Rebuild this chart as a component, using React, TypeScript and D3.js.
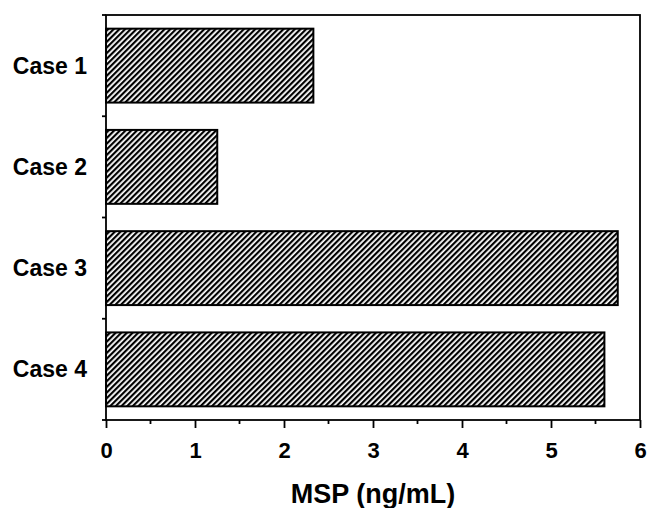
import React, { useEffect, useRef } from 'react';
import * as d3 from 'd3';

const categories = ['Case 1', 'Case 2', 'Case 3', 'Case 4'];
const values = [2.33, 1.25, 5.75, 5.6];
const xTicks = [0, 1, 2, 3, 4, 5, 6];
const xMinorTicks = [0.5, 1.5, 2.5, 3.5, 4.5, 5.5];
const xLabel = 'MSP (ng/mL)';

const App = () => {
  const chartRef = useRef<SVGSVGElement>(null);

  useEffect(() => {
    const svg = d3.select(chartRef.current);
    svg.selectAll('*').remove();

    const margin = { top: 15, right: 10, bottom: 88, left: 106 };
    const width = 650 - margin.left - margin.right;
    const height = 508 - margin.top - margin.bottom;
    const font = '"Liberation Sans", Arial, Helvetica, sans-serif';

    // hatch fill
    const defs = svg.append('defs');
    const pat = defs.append('pattern')
      .attr('id', 'hatch')
      .attr('patternUnits', 'userSpaceOnUse')
      .attr('width', 4)
      .attr('height', 4)
      .attr('patternTransform', 'rotate(45)');
    pat.append('rect').attr('width', 4).attr('height', 4).attr('fill', '#fff');
    pat.append('rect')
      .attr('x', 0).attr('y', 0).attr('width', 2.2).attr('height', 4)
      .attr('fill', '#000');

    const x = d3.scaleLinear()
      .domain([0, 6])
      .range([margin.left, margin.left + width]);

    const y = d3.scaleBand()
      .domain(categories)
      .range([margin.top, margin.top + height])
      .paddingInner(0.27)
      .paddingOuter(0.135);

    // frame
    svg.append('rect')
      .attr('x', margin.left)
      .attr('y', margin.top)
      .attr('width', width)
      .attr('height', height)
      .attr('fill', 'none')
      .attr('stroke', '#000')
      .attr('stroke-width', 1.8);

    // bars
    svg.selectAll('.bar')
      .data(values)
      .enter().append('rect')
      .attr('class', 'bar')
      .attr('x', x(0))
      .attr('y', (d, i) => y(categories[i]) as number)
      .attr('width', d => x(d) - x(0))
      .attr('height', y.bandwidth())
      .attr('fill', 'url(#hatch)')
      .attr('stroke', '#000')
      .attr('stroke-width', 2);

    // x axis
    const xAxis = svg.append('g')
      .attr('transform', `translate(0, ${margin.top + height})`)
      .call(d3.axisBottom(x).tickValues(xTicks).tickSize(8).tickFormat(d3.format('d')));
    xAxis.select('.domain').remove();
    xAxis.selectAll('line').attr('stroke-width', 1.8);
    xAxis.selectAll('text')
      .attr('y', 22)
      .style('font-family', font)
      .style('font-weight', 'bold')
      .style('font-size', '22px')
      .attr('fill', '#000');

    svg.append('g')
      .attr('transform', `translate(0, ${margin.top + height})`)
      .selectAll('line')
      .data(xMinorTicks)
      .enter().append('line')
      .attr('x1', d => x(d)).attr('x2', d => x(d))
      .attr('y1', 0).attr('y2', 4)
      .attr('stroke', '#000')
      .attr('stroke-width', 1.8);

    // y ticks at category boundaries
    const step = y.step();
    const boundaries = d3.range(categories.length + 1).map(i => margin.top + i * step);
    svg.append('g')
      .selectAll('line')
      .data(boundaries)
      .enter().append('line')
      .attr('x1', margin.left - 4).attr('x2', margin.left)
      .attr('y1', d => d).attr('y2', d => d)
      .attr('stroke', '#000')
      .attr('stroke-width', 1.8);

    // category labels
    svg.selectAll('.catLabel')
      .data(categories)
      .enter().append('text')
      .attr('class', 'catLabel')
      .attr('x', 87)
      .attr('y', d => (y(d) as number) + y.bandwidth() / 2)
      .attr('dy', '0.35em')
      .attr('text-anchor', 'end')
      .style('font-family', font)
      .style('font-weight', 'bold')
      .style('font-size', '23px')
      .text(d => d);

    // x label
    svg.append('text')
      .attr('x', margin.left + width / 2)
      .attr('y', 503)
      .attr('text-anchor', 'middle')
      .style('font-family', font)
      .style('font-weight', 'bold')
      .style('font-size', '27px')
      .text(xLabel);
  }, []);

  return (
    <svg
      ref={chartRef}
      width={650}
      height={508}
      style={{ position: 'absolute', left: 0, top: 0, background: '#fff' }}
    />
  );
};

export default App;
